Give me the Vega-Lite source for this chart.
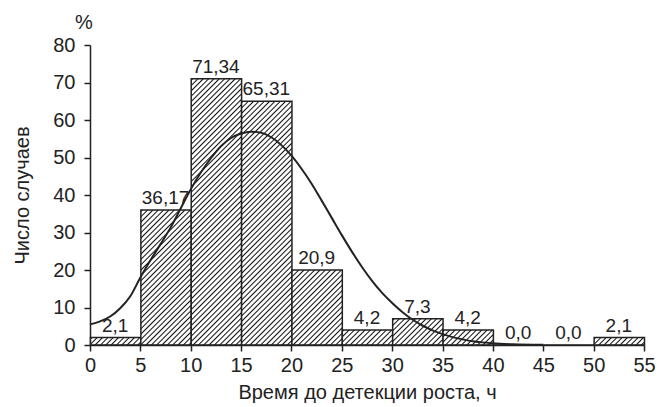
{
  "$schema": "https://vega.github.io/schema/vega-lite/v6.json",
  "width": 554,
  "height": 300,
  "autosize": {"type": "none"},
  "padding": {"left": 90, "top": 45, "right": 16, "bottom": 62},
  "background": "white",
  "params": [
    {"name": "hatch", "value": [
      {"offset":0,"color":"#fff"},{"offset":0.0045,"color":"#111"},{"offset":0.009,"color":"#fff"},
      {"offset":0.0167,"color":"#fff"},{"offset":0.0212,"color":"#111"},{"offset":0.0257,"color":"#fff"},
      {"offset":0.0333,"color":"#fff"},{"offset":0.0378,"color":"#111"},{"offset":0.0423,"color":"#fff"},
      {"offset":0.05,"color":"#fff"},{"offset":0.0545,"color":"#111"},{"offset":0.059,"color":"#fff"},
      {"offset":0.0667,"color":"#fff"},{"offset":0.0712,"color":"#111"},{"offset":0.0757,"color":"#fff"},
      {"offset":0.0833,"color":"#fff"},{"offset":0.0878,"color":"#111"},{"offset":0.0923,"color":"#fff"},
      {"offset":0.1,"color":"#fff"},{"offset":0.1045,"color":"#111"},{"offset":0.109,"color":"#fff"},
      {"offset":0.1167,"color":"#fff"},{"offset":0.1212,"color":"#111"},{"offset":0.1257,"color":"#fff"},
      {"offset":0.1333,"color":"#fff"},{"offset":0.1378,"color":"#111"},{"offset":0.1423,"color":"#fff"},
      {"offset":0.15,"color":"#fff"},{"offset":0.1545,"color":"#111"},{"offset":0.159,"color":"#fff"},
      {"offset":0.1667,"color":"#fff"},{"offset":0.1712,"color":"#111"},{"offset":0.1757,"color":"#fff"},
      {"offset":0.1833,"color":"#fff"},{"offset":0.1878,"color":"#111"},{"offset":0.1923,"color":"#fff"},
      {"offset":0.2,"color":"#fff"},{"offset":0.2045,"color":"#111"},{"offset":0.209,"color":"#fff"},
      {"offset":0.2167,"color":"#fff"},{"offset":0.2212,"color":"#111"},{"offset":0.2257,"color":"#fff"},
      {"offset":0.2333,"color":"#fff"},{"offset":0.2378,"color":"#111"},{"offset":0.2423,"color":"#fff"},
      {"offset":0.25,"color":"#fff"},{"offset":0.2545,"color":"#111"},{"offset":0.259,"color":"#fff"},
      {"offset":0.2667,"color":"#fff"},{"offset":0.2712,"color":"#111"},{"offset":0.2757,"color":"#fff"},
      {"offset":0.2833,"color":"#fff"},{"offset":0.2878,"color":"#111"},{"offset":0.2923,"color":"#fff"},
      {"offset":0.3,"color":"#fff"},{"offset":0.3045,"color":"#111"},{"offset":0.309,"color":"#fff"},
      {"offset":0.3167,"color":"#fff"},{"offset":0.3212,"color":"#111"},{"offset":0.3257,"color":"#fff"},
      {"offset":0.3333,"color":"#fff"},{"offset":0.3378,"color":"#111"},{"offset":0.3423,"color":"#fff"},
      {"offset":0.35,"color":"#fff"},{"offset":0.3545,"color":"#111"},{"offset":0.359,"color":"#fff"},
      {"offset":0.3667,"color":"#fff"},{"offset":0.3712,"color":"#111"},{"offset":0.3757,"color":"#fff"},
      {"offset":0.3833,"color":"#fff"},{"offset":0.3878,"color":"#111"},{"offset":0.3923,"color":"#fff"},
      {"offset":0.4,"color":"#fff"},{"offset":0.4045,"color":"#111"},{"offset":0.409,"color":"#fff"},
      {"offset":0.4167,"color":"#fff"},{"offset":0.4212,"color":"#111"},{"offset":0.4257,"color":"#fff"},
      {"offset":0.4333,"color":"#fff"},{"offset":0.4378,"color":"#111"},{"offset":0.4423,"color":"#fff"},
      {"offset":0.45,"color":"#fff"},{"offset":0.4545,"color":"#111"},{"offset":0.459,"color":"#fff"},
      {"offset":0.4667,"color":"#fff"},{"offset":0.4712,"color":"#111"},{"offset":0.4757,"color":"#fff"},
      {"offset":0.4833,"color":"#fff"},{"offset":0.4878,"color":"#111"},{"offset":0.4923,"color":"#fff"},
      {"offset":0.5,"color":"#fff"},{"offset":0.5045,"color":"#111"},{"offset":0.509,"color":"#fff"},
      {"offset":0.5167,"color":"#fff"},{"offset":0.5212,"color":"#111"},{"offset":0.5257,"color":"#fff"},
      {"offset":0.5333,"color":"#fff"},{"offset":0.5378,"color":"#111"},{"offset":0.5423,"color":"#fff"},
      {"offset":0.55,"color":"#fff"},{"offset":0.5545,"color":"#111"},{"offset":0.559,"color":"#fff"},
      {"offset":0.5667,"color":"#fff"},{"offset":0.5712,"color":"#111"},{"offset":0.5757,"color":"#fff"},
      {"offset":0.5833,"color":"#fff"},{"offset":0.5878,"color":"#111"},{"offset":0.5923,"color":"#fff"},
      {"offset":0.6,"color":"#fff"},{"offset":0.6045,"color":"#111"},{"offset":0.609,"color":"#fff"},
      {"offset":0.6167,"color":"#fff"},{"offset":0.6212,"color":"#111"},{"offset":0.6257,"color":"#fff"},
      {"offset":0.6333,"color":"#fff"},{"offset":0.6378,"color":"#111"},{"offset":0.6423,"color":"#fff"},
      {"offset":0.65,"color":"#fff"},{"offset":0.6545,"color":"#111"},{"offset":0.659,"color":"#fff"},
      {"offset":0.6667,"color":"#fff"},{"offset":0.6712,"color":"#111"},{"offset":0.6757,"color":"#fff"},
      {"offset":0.6833,"color":"#fff"},{"offset":0.6878,"color":"#111"},{"offset":0.6923,"color":"#fff"},
      {"offset":0.7,"color":"#fff"},{"offset":0.7045,"color":"#111"},{"offset":0.709,"color":"#fff"},
      {"offset":0.7167,"color":"#fff"},{"offset":0.7212,"color":"#111"},{"offset":0.7257,"color":"#fff"},
      {"offset":0.7333,"color":"#fff"},{"offset":0.7378,"color":"#111"},{"offset":0.7423,"color":"#fff"},
      {"offset":0.75,"color":"#fff"},{"offset":0.7545,"color":"#111"},{"offset":0.759,"color":"#fff"},
      {"offset":0.7667,"color":"#fff"},{"offset":0.7712,"color":"#111"},{"offset":0.7757,"color":"#fff"},
      {"offset":0.7833,"color":"#fff"},{"offset":0.7878,"color":"#111"},{"offset":0.7923,"color":"#fff"},
      {"offset":0.8,"color":"#fff"},{"offset":0.8045,"color":"#111"},{"offset":0.809,"color":"#fff"},
      {"offset":0.8167,"color":"#fff"},{"offset":0.8212,"color":"#111"},{"offset":0.8257,"color":"#fff"},
      {"offset":0.8333,"color":"#fff"},{"offset":0.8378,"color":"#111"},{"offset":0.8423,"color":"#fff"},
      {"offset":0.85,"color":"#fff"},{"offset":0.8545,"color":"#111"},{"offset":0.859,"color":"#fff"},
      {"offset":0.8667,"color":"#fff"},{"offset":0.8712,"color":"#111"},{"offset":0.8757,"color":"#fff"},
      {"offset":0.8833,"color":"#fff"},{"offset":0.8878,"color":"#111"},{"offset":0.8923,"color":"#fff"},
      {"offset":0.9,"color":"#fff"},{"offset":0.9045,"color":"#111"},{"offset":0.909,"color":"#fff"},
      {"offset":0.9167,"color":"#fff"},{"offset":0.9212,"color":"#111"},{"offset":0.9257,"color":"#fff"},
      {"offset":0.9333,"color":"#fff"},{"offset":0.9378,"color":"#111"},{"offset":0.9423,"color":"#fff"},
      {"offset":0.95,"color":"#fff"},{"offset":0.9545,"color":"#111"},{"offset":0.959,"color":"#fff"},
      {"offset":0.9667,"color":"#fff"},{"offset":0.9712,"color":"#111"},{"offset":0.9757,"color":"#fff"},
      {"offset":0.9833,"color":"#fff"},{"offset":0.9878,"color":"#111"},{"offset":0.9923,"color":"#fff"},
      {"offset":1,"color":"#fff"}
    ]}
  ],
  "title": {
    "text": "%",
    "anchor": "start",
    "frame": "group",
    "dx": -15,
    "offset": -14,
    "baseline": "alphabetic",
    "font": "Liberation Sans",
    "fontSize": 20,
    "fontWeight": "normal",
    "color": "#222"
  },
  "config": {
    "view": {"stroke": null},
    "font": "Liberation Sans",
    "axis": {
      "grid": false,
      "domainColor": "#222",
      "domainWidth": 1.5,
      "tickColor": "#222",
      "tickWidth": 1.5,
      "tickSize": 6,
      "labelFont": "Liberation Sans",
      "labelFontSize": 20,
      "labelColor": "#222",
      "labelFlush": false,
      "labelOverlap": false,
      "titleFont": "Liberation Sans",
      "titleFontSize": 20,
      "titleFontWeight": "normal",
      "titleColor": "#222"
    }
  },
  "datasets": {
    "bars": [
      {"x0": 0, "x1": 5, "v": 2, "label": "2,1"},
      {"x0": 5, "x1": 10, "v": 36, "label": "36,17"},
      {"x0": 10, "x1": 15, "v": 71, "label": "71,34"},
      {"x0": 15, "x1": 20, "v": 65, "label": "65,31"},
      {"x0": 20, "x1": 25, "v": 20, "label": "20,9"},
      {"x0": 25, "x1": 30, "v": 4, "label": "4,2"},
      {"x0": 30, "x1": 35, "v": 7, "label": "7,3"},
      {"x0": 35, "x1": 40, "v": 4, "label": "4,2"},
      {"x0": 40, "x1": 45, "v": 0, "label": "0,0"},
      {"x0": 45, "x1": 50, "v": 0, "label": "0,0"},
      {"x0": 50, "x1": 55, "v": 2, "label": "2,1"}
    ],
    "curve": [
      {"t": 0, "p": 5.5}, {"t": 1, "p": 6.3}, {"t": 2, "p": 7.6}, {"t": 3, "p": 9.8},
      {"t": 4, "p": 13.0}, {"t": 5, "p": 18.0}, {"t": 6, "p": 22.6}, {"t": 7, "p": 26.9},
      {"t": 8, "p": 31.3}, {"t": 9, "p": 36.4}, {"t": 10, "p": 41.5}, {"t": 11, "p": 46.0},
      {"t": 12, "p": 49.8}, {"t": 13, "p": 53.0}, {"t": 14, "p": 55.2}, {"t": 15, "p": 56.4},
      {"t": 16, "p": 56.9}, {"t": 17, "p": 56.6}, {"t": 18, "p": 55.4}, {"t": 19, "p": 53.3},
      {"t": 20, "p": 50.5}, {"t": 21, "p": 47.0}, {"t": 22, "p": 43.0}, {"t": 23, "p": 38.5},
      {"t": 24, "p": 33.9}, {"t": 25, "p": 29.3}, {"t": 26, "p": 24.9}, {"t": 27, "p": 20.8},
      {"t": 28, "p": 17.1}, {"t": 29, "p": 13.9}, {"t": 30, "p": 11.2}, {"t": 31, "p": 8.8},
      {"t": 32, "p": 6.8}, {"t": 33, "p": 5.2}, {"t": 34, "p": 3.9}, {"t": 35, "p": 2.9},
      {"t": 36, "p": 2.1}, {"t": 37, "p": 1.5}, {"t": 38, "p": 1.0}, {"t": 39, "p": 0.7},
      {"t": 40, "p": 0.45}, {"t": 42, "p": 0.2}, {"t": 45, "p": 0.05}
    ]
  },
  "layer": [
    {
      "data": {"name": "bars"},
      "mark": {
        "type": "rect",
        "stroke": "#222",
        "strokeWidth": 1.5,
        "fill": {"expr": "{gradient: 'linear', x1: 0, y1: 0, x2: 50.364*320/(2536.5+pow(3.75*datum.v,2)), y2: 3.75*datum.v*320/(2536.5+pow(3.75*datum.v,2)), stops: hatch}"}
      },
      "encoding": {
        "x": {
          "field": "x0", "type": "quantitative", "bin": "binned",
          "scale": {"domain": [0, 55], "nice": false, "zero": false},
          "title": "Время до детекции роста, ч",
          "axis": {
            "values": [0, 5, 10, 15, 20, 25, 30, 35, 40, 45, 50, 55],
            "labelPadding": 4,
            "labelOverlap": false,
            "titleX": 277,
            "titleY": 53,
            "titleAlign": "center",
            "titleBaseline": "alphabetic"
          }
        },
        "x2": {"field": "x1"},
        "y": {
          "field": "v", "type": "quantitative",
          "scale": {"domain": [0, 80], "nice": false},
          "title": "Число случаев",
          "axis": {
            "values": [0, 10, 20, 30, 40, 50, 60, 70, 80],
            "tickCount": 9,
            "labelPadding": 9,
            "labelOverlap": false,
            "titleX": -68,
            "titleY": 150,
            "titleAngle": -90,
            "titleAlign": "center",
            "titleBaseline": "middle"
          }
        },
        "y2": {"datum": 0}
      }
    },
    {
      "data": {"name": "curve"},
      "mark": {"type": "line", "interpolate": "monotone", "color": "#222", "strokeWidth": 2},
      "encoding": {
        "x": {
          "field": "t", "type": "quantitative",
          "title": "Время до детекции роста, ч",
          "axis": {
            "values": [0, 5, 10, 15, 20, 25, 30, 35, 40, 45, 50, 55],
            "labelPadding": 4,
            "labelOverlap": false,
            "titleX": 277,
            "titleY": 53,
            "titleAlign": "center",
            "titleBaseline": "alphabetic"
          }
        },
        "y": {
          "field": "p", "type": "quantitative",
          "title": "Число случаев",
          "axis": {
            "values": [0, 10, 20, 30, 40, 50, 60, 70, 80],
            "tickCount": 9,
            "labelPadding": 9,
            "labelOverlap": false,
            "titleX": -68,
            "titleY": 150,
            "titleAngle": -90,
            "titleAlign": "center",
            "titleBaseline": "middle"
          }
        }
      }
    },
    {
      "data": {"name": "bars"},
      "mark": {"type": "text", "align": "center", "baseline": "alphabetic", "dx": 25.18, "dy": -6, "font": "Liberation Sans", "fontSize": 19, "color": "#222"},
      "encoding": {
        "x": {
          "field": "x0", "type": "quantitative",
          "title": "Время до детекции роста, ч",
          "axis": {
            "values": [0, 5, 10, 15, 20, 25, 30, 35, 40, 45, 50, 55],
            "labelPadding": 4,
            "labelOverlap": false,
            "titleX": 277,
            "titleY": 53,
            "titleAlign": "center",
            "titleBaseline": "alphabetic"
          }
        },
        "y": {
          "field": "v", "type": "quantitative",
          "title": "Число случаев",
          "axis": {
            "values": [0, 10, 20, 30, 40, 50, 60, 70, 80],
            "tickCount": 9,
            "labelPadding": 9,
            "labelOverlap": false,
            "titleX": -68,
            "titleY": 150,
            "titleAngle": -90,
            "titleAlign": "center",
            "titleBaseline": "middle"
          }
        },
        "text": {"field": "label"}
      }
    }
  ]
}
